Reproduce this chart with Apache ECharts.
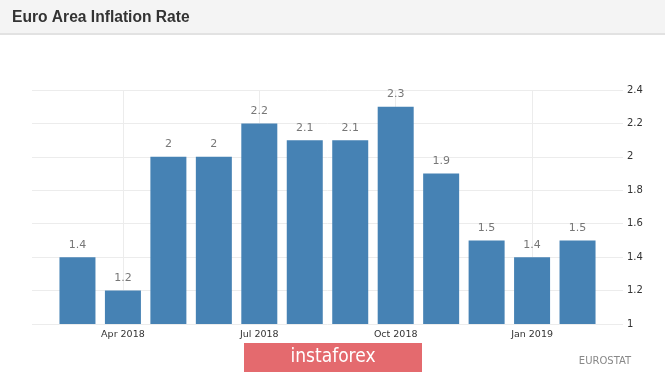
<!DOCTYPE html>
<html>
<head>
<meta charset="utf-8">
<script src="https://cdn.jsdelivr.net/npm/echarts@6/dist/echarts.min.js"></script>
<style>
html,body{margin:0;padding:0;background:#fff;}
#chart{width:665px;height:374px;}
</style>
</head>
<body>
<div id="chart"></div>
<script>
const titleText = 'Euro Area Inflation Rate';
const sourceText = 'EUROSTAT';
const watermarkText = 'instaforex';
// Months on the axis (first and last are empty padding slots)
const months = ['Feb 2018','Mar 2018','Apr 2018','May 2018','Jun 2018','Jul 2018','Aug 2018','Sep 2018','Oct 2018','Nov 2018','Dec 2018','Jan 2019','Feb 2019','Mar 2019'];
const inflation = [null, 1.4, 1.2, 2, 2, 2.2, 2.1, 2.1, 2.3, 1.9, 1.5, 1.4, 1.5, null];
const labelledMonths = ['Apr 2018','Jul 2018','Oct 2018','Jan 2019'];
const yMin = 1, yMax = 2.4, yStep = 0.2;

const chart = echarts.init(document.getElementById('chart'));
const showIdx = (i) => labelledMonths.indexOf(months[i]) >= 0;
chart.setOption({
  animation: false,
  backgroundColor: '#fff',
  grid: {left: 32, right: 42, top: 90, bottom: 50, containLabel: false},
  xAxis: {
    type: 'category',
    data: months,
    boundaryGap: false,
    axisLine: {show: false},
    axisTick: {show: false},
    axisLabel: {
      interval: (i) => showIdx(i),
      color: '#333', fontFamily: 'DejaVu Sans', fontSize: 9.5, margin: 6
    },
    splitLine: {show: true, interval: (i) => showIdx(i), lineStyle: {color: '#ececec', width: 1}}
  },
  yAxis: {
    type: 'value',
    position: 'right',
    min: yMin, max: yMax, interval: yStep,
    axisLine: {show: false},
    axisTick: {show: false},
    axisLabel: {color: '#333', fontFamily: 'DejaVu Sans', fontSize: 10, margin: 4},
    splitLine: {lineStyle: {color: '#ececec', width: 1}}
  },
  series: [{
    type: 'bar',
    data: inflation,
    barWidth: 36,
    itemStyle: {color: '#4682b4'},
    label: {
      show: true, position: 'top', distance: 7,
      color: '#777', fontFamily: 'DejaVu Sans', fontSize: 11
    }
  }],
  graphic: [
    {type: 'rect', left: 0, top: 0, shape: {width: 665, height: 33}, style: {fill: '#f4f4f4'}, z: -1},
    {type: 'rect', left: 0, top: 33, shape: {width: 665, height: 2}, style: {fill: '#e2e2e2'}, z: -1},
    {type: 'text', left: 12, top: 10, style: {text: titleText, fill: '#333', font: 'bold 15.6px "Liberation Sans", Arial, sans-serif'}},
    {type: 'rect', left: 244, top: 343, shape: {width: 178, height: 29}, style: {fill: '#e46a6e'}},
    {type: 'text', x: 333, y: 357, style: {text: watermarkText, fill: '#fff', font: '19px "DejaVu Sans Condensed", "DejaVu Sans", sans-serif', align: 'center', verticalAlign: 'middle'}},
    {type: 'text', x: 605, y: 361, style: {text: sourceText, fill: '#888', font: '10px "DejaVu Sans", sans-serif', align: 'center', verticalAlign: 'middle'}}
  ]
});
</script>
</body>
</html>
